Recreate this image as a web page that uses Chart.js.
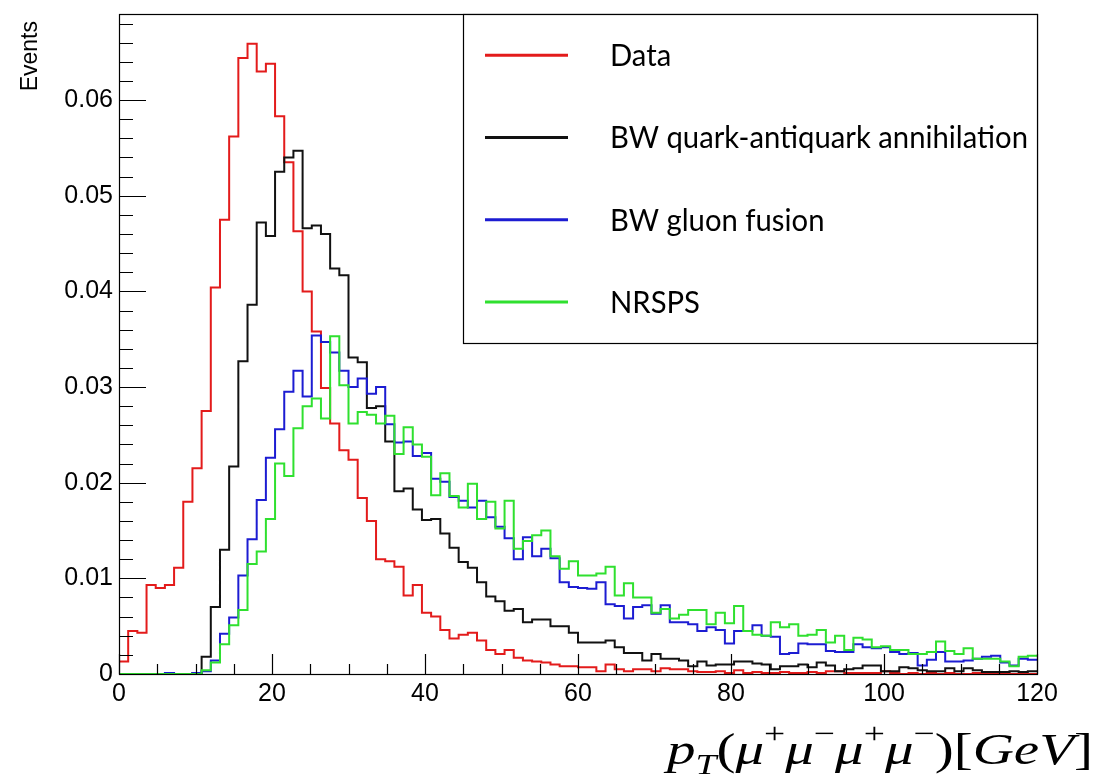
<!DOCTYPE html>
<html>
<head>
<meta charset="utf-8">
<script src="https://cdn.jsdelivr.net/npm/chart.js@4.4.1/dist/chart.umd.min.js"></script>
<style>
  html, body { margin: 0; padding: 0; background: #fff; }
  #wrap { width: 1099px; height: 777px; }
</style>
</head>
<body>
<div id="wrap"><canvas id="ptChart" width="1099" height="777"></canvas></div>
<script>
// histogram binning: 100 bins of 1.2 GeV from 0 to 120
const xMin = 0;
const xMax = 120;
const nBins = 100;

const seriesNames = ['Data', 'BW quark-antiquark annihilation', 'BW gluon fusion', 'NRSPS'];
const seriesColors = ['#e31b1b', '#111111', '#1c1cd2', '#2fe02f'];

const xTickLabels = ['0', '20', '40', '60', '80', '100', '120'];
const yTickLabels = ['0', '0.01', '0.02', '0.03', '0.04', '0.05', '0.06'];

const dataVals = [
  0.0013, 0.0045, 0.0043, 0.0093, 0.0090, 0.0093, 0.0111, 0.0180, 0.0215, 0.0275,
  0.0404, 0.0475, 0.0562, 0.0644, 0.0659, 0.0630, 0.0638, 0.0583, 0.0535, 0.0463,
  0.0400, 0.0358, 0.0299, 0.0262, 0.0234, 0.0224, 0.0184, 0.0160, 0.0120, 0.0118,
  0.0112, 0.0082, 0.0093, 0.0064, 0.0060, 0.0046, 0.0037, 0.0041, 0.0043, 0.0035,
  0.0025, 0.0021, 0.0025, 0.0017, 0.0014, 0.0013, 0.0012, 0.0010, 0.0008, 0.0008,
  0.0007, 0.0007, 0.0003, 0.0010, 0.0005, 0.0003, 0.0005, 0.0005, 0.0003, 0.0006,
  0.0005, 0.0005, 0.0003, 0.0002, 0.0002, 0.0003, 0.0001, 0.0004, 0.0001, 0.0002,
  0.0001, 0.0001, 0.0002, 0.0001, 0.0001, 0.0002, 0.0001, 0.0003, 0.0003, 0.0001,
  0.0001, 0.0001, 0.0001, 0.0003, 0.0001, 0.0000, 0.0001, 0.0000, 0.0001, 0.0000,
  0.0001, 0.0000, 0.0000, 0.0001, 0.0000, 0.0000, 0.0001, 0.0000, 0.0000, 0.0000
];

const qqbarVals = [
  0.0000, 0.0000, 0.0000, 0.0000, 0.0000, 0.0000, 0.0000, 0.0000, 0.0001, 0.0018,
  0.0070, 0.0130, 0.0217, 0.0327, 0.0386, 0.0472, 0.0458, 0.0525, 0.0540, 0.0547,
  0.0466, 0.0469, 0.0460, 0.0424, 0.0417, 0.0331, 0.0326, 0.0278, 0.0280, 0.0243,
  0.0191, 0.0194, 0.0172, 0.0161, 0.0162, 0.0147, 0.0132, 0.0117, 0.0111, 0.0096,
  0.0081, 0.0076, 0.0066, 0.0068, 0.0054, 0.0057, 0.0057, 0.0050, 0.0050, 0.0043,
  0.0033, 0.0033, 0.0033, 0.0035, 0.0028, 0.0022, 0.0022, 0.0014, 0.0021, 0.0016,
  0.0016, 0.0014, 0.0008, 0.0013, 0.0009, 0.0010, 0.0010, 0.0013, 0.0013, 0.0011,
  0.0010, 0.0005, 0.0008, 0.0008, 0.0010, 0.0007, 0.0012, 0.0009, 0.0003, 0.0005,
  0.0006, 0.0009, 0.0009, 0.0003, 0.0003, 0.0007, 0.0006, 0.0004, 0.0003, 0.0003,
  0.0006, 0.0003, 0.0006, 0.0004, 0.0002, 0.0002, 0.0002, 0.0003, 0.0002, 0.0003
];

const ggVals = [
  0.0000, 0.0000, 0.0000, 0.0000, 0.0000, 0.0001, 0.0000, 0.0000, 0.0001, 0.0003,
  0.0014, 0.0042, 0.0059, 0.0103, 0.0141, 0.0182, 0.0226, 0.0256, 0.0295, 0.0317,
  0.0290, 0.0354, 0.0347, 0.0336, 0.0317, 0.0300, 0.0309, 0.0293, 0.0300, 0.0261,
  0.0242, 0.0243, 0.0228, 0.0231, 0.0204, 0.0201, 0.0185, 0.0181, 0.0174, 0.0181,
  0.0164, 0.0154, 0.0142, 0.0120, 0.0143, 0.0123, 0.0131, 0.0121, 0.0096, 0.0091,
  0.0090, 0.0089, 0.0096, 0.0073, 0.0071, 0.0058, 0.0070, 0.0072, 0.0063, 0.0072,
  0.0054, 0.0054, 0.0052, 0.0045, 0.0049, 0.0046, 0.0032, 0.0045, 0.0045, 0.0051,
  0.0040, 0.0039, 0.0021, 0.0022, 0.0032, 0.0031, 0.0031, 0.0024, 0.0023, 0.0023,
  0.0031, 0.0028, 0.0027, 0.0028, 0.0023, 0.0021, 0.0022, 0.0009, 0.0015, 0.0023,
  0.0013, 0.0013, 0.0014, 0.0016, 0.0018, 0.0019, 0.0012, 0.0009, 0.0016, 0.0015
];

const nrspsVals = [
  0.0000, 0.0000, 0.0000, 0.0000, 0.0000, 0.0000, 0.0000, 0.0000, 0.0000, 0.0004,
  0.0012, 0.0031, 0.0051, 0.0067, 0.0115, 0.0128, 0.0162, 0.0220, 0.0207, 0.0257,
  0.0280, 0.0288, 0.0267, 0.0353, 0.0302, 0.0262, 0.0274, 0.0271, 0.0262, 0.0270,
  0.0230, 0.0258, 0.0240, 0.0227, 0.0187, 0.0210, 0.0186, 0.0174, 0.0199, 0.0162,
  0.0180, 0.0152, 0.0181, 0.0131, 0.0139, 0.0145, 0.0150, 0.0123, 0.0110, 0.0118,
  0.0103, 0.0103, 0.0105, 0.0112, 0.0082, 0.0095, 0.0080, 0.0080, 0.0064, 0.0068,
  0.0058, 0.0062, 0.0067, 0.0067, 0.0052, 0.0064, 0.0053, 0.0071, 0.0045, 0.0041,
  0.0040, 0.0054, 0.0049, 0.0052, 0.0040, 0.0041, 0.0046, 0.0033, 0.0040, 0.0025,
  0.0038, 0.0036, 0.0028, 0.0029, 0.0025, 0.0025, 0.0021, 0.0021, 0.0023, 0.0034,
  0.0024, 0.0021, 0.0027, 0.0016, 0.0016, 0.0016, 0.0013, 0.0008, 0.0018, 0.0019
];

document.addEventListener('DOMContentLoaded', function() {
    const binWidth = (xMax - xMin) / nBins;

    // one point per lower bin edge, plus the upper edge of the last bin
    const toSteps = (vals) => {
        const pts = vals.map((v, i) => ({ x: xMin + i * binWidth, y: v }));
        pts.push({ x: xMax, y: vals[vals.length - 1] });
        return pts;
    };

    const allVals = [dataVals, qqbarVals, ggVals, nrspsVals];
    const datasets = allVals.map((vals, i) => ({
        label: seriesNames[i],
        data: toSteps(vals),
        borderColor: seriesColors[i],
        borderWidth: 2,
        stepped: true,
        pointRadius: 0,
        fill: false,
        clip: 2,
        order: 3 - i
    }));

    const labelFont = { family: "'Liberation Sans', Arial, sans-serif", size: 25 };

    // keep the frame exactly where the layout padding puts it
    const noScalePadding = (scale) => {
        scale.paddingTop = 0;
        scale.paddingBottom = 0;
        scale.paddingLeft = 0;
        scale.paddingRight = 0;
    };

    const rootStyle = {
        id: 'rootStyle',
        afterDraw(chart) {
            const ctx = chart.ctx;
            const area = chart.chartArea;
            const xs = chart.scales.x;
            const ys = chart.scales.y;
            ctx.save();

            // frame
            ctx.strokeStyle = '#000';
            ctx.lineWidth = 1.2;
            ctx.strokeRect(area.left + 0.5, area.top + 0.5, area.right - area.left, area.bottom - area.top);

            // inward ticks, ROOT style
            ctx.beginPath();
            for (let k = 0; k <= 34; k++) {
                const y = Math.round(ys.getPixelForValue(k * 0.002)) + 0.5;
                const len = (k % 5 === 0) ? 27 : 14;
                ctx.moveTo(area.left, y);
                ctx.lineTo(area.left + len, y);
            }
            for (let k = 0; k <= 24; k++) {
                const x = Math.round(xs.getPixelForValue(k * 5)) + 0.5;
                const len = (k % 4 === 0) ? 20 : 10;
                ctx.moveTo(x, area.bottom);
                ctx.lineTo(x, area.bottom - len);
            }
            ctx.stroke();

            // y title
            ctx.save();
            ctx.translate(31, 21);
            ctx.rotate(-Math.PI / 2);
            ctx.fillStyle = '#000';
            ctx.font = "23px 'Liberation Sans', Arial, sans-serif";
            ctx.textAlign = 'right';
            ctx.textBaseline = 'middle';
            ctx.fillText('Events', 0, 0);
            ctx.restore();

            // legend box
            const lx0 = 463, ly0 = area.top, lx1 = area.right, ly1 = 343;
            ctx.fillStyle = '#fff';
            ctx.fillRect(lx0, ly0, lx1 - lx0, ly1 - ly0);
            ctx.strokeStyle = '#000';
            ctx.lineWidth = 1.2;
            ctx.strokeRect(lx0 + 0.5, ly0 + 0.5, lx1 - lx0, ly1 - ly0);

            ctx.font = "31px Lato, 'Open Sans', sans-serif";
            let widest = 0;
            chart.data.datasets.forEach(ds => { widest = Math.max(widest, ctx.measureText(ds.label).width); });
            const sx = Math.min(1.2, 418 / widest);
            const rowH = (ly1 - ly0) / chart.data.datasets.length;
            chart.data.datasets.forEach((ds, i) => {
                const cy = ly0 + rowH * (i + 0.5);
                ctx.strokeStyle = ds.borderColor;
                ctx.lineWidth = 3;
                ctx.beginPath();
                ctx.moveTo(485, cy);
                ctx.lineTo(568, cy);
                ctx.stroke();
                ctx.save();
                ctx.translate(610, cy + 1);
                ctx.scale(sx, 1);
                ctx.fillStyle = '#000';
                ctx.textAlign = 'left';
                ctx.textBaseline = 'middle';
                ctx.fillText(ds.label, 0, 0);
                ctx.restore();
            });

            // x title: p_T(mu+ mu- mu+ mu-)[GeV]
            const fs = 44;
            const serif = "'Liberation Serif', 'DejaVu Serif', serif";
            const parts = [
                ['p', 'italic', 1, 0], ['T', 'italic', 0.65, 10], ['(', '', 1, 0],
                ['\u03bc', 'italic', 1, 0], ['+', '', 0.66, -21],
                ['\u03bc', 'italic', 1, 0], ['\u2212', '', 0.66, -21],
                ['\u03bc', 'italic', 1, 0], ['+', '', 0.66, -21],
                ['\u03bc', 'italic', 1, 0], ['\u2212', '', 0.66, -21],
                [')', '', 1, 0], ['[', '', 1, 0], ['GeV', 'italic', 1, 0], [']', '', 1, 0]
            ];
            let total = 0;
            const widths = parts.map(p => {
                ctx.font = `${p[1]} ${Math.round(fs * p[2])}px ${serif}`;
                const w = ctx.measureText(p[0]).width;
                total += w;
                return w;
            });
            ctx.save();
            ctx.translate(667, 764);
            ctx.scale(426 / total, 1);
            ctx.fillStyle = '#000';
            ctx.textAlign = 'left';
            ctx.textBaseline = 'alphabetic';
            let px = 0;
            parts.forEach((p, i) => {
                ctx.font = `${p[1]} ${Math.round(fs * p[2])}px ${serif}`;
                ctx.fillText(p[0], px, p[3]);
                px += widths[i];
            });
            ctx.restore();

            ctx.restore();
        }
    };

    const ctx = document.getElementById('ptChart').getContext('2d');
    new Chart(ctx, {
        type: 'line',
        data: { datasets: datasets },
        options: {
            responsive: false,
            animation: false,
            devicePixelRatio: 1,
            layout: { padding: { left: 0, right: 62, top: 14, bottom: 0 } },
            scales: {
                x: {
                    type: 'linear',
                    min: xMin,
                    max: xMax,
                    grid: { display: false, drawTicks: false },
                    border: { display: false },
                    ticks: {
                        stepSize: 20,
                        autoSkip: false,
                        maxRotation: 0,
                        padding: 5,
                        color: '#000',
                        font: labelFont,
                        callback: (v, i) => xTickLabels[i]
                    },
                    afterFit: (scale) => { scale.height = 103; noScalePadding(scale); }
                },
                y: {
                    min: 0,
                    max: 0.069,
                    grid: { display: false, drawTicks: false },
                    border: { display: false },
                    ticks: {
                        stepSize: 0.01,
                        includeBounds: false,
                        autoSkip: false,
                        padding: 6,
                        color: '#000',
                        font: labelFont,
                        callback: (v, i) => yTickLabels[i]
                    },
                    afterFit: (scale) => { scale.width = 119; noScalePadding(scale); }
                }
            },
            plugins: {
                legend: { display: false },
                tooltip: { enabled: false }
            }
        },
        plugins: [rootStyle]
    });
});
</script>
</body>
</html>
